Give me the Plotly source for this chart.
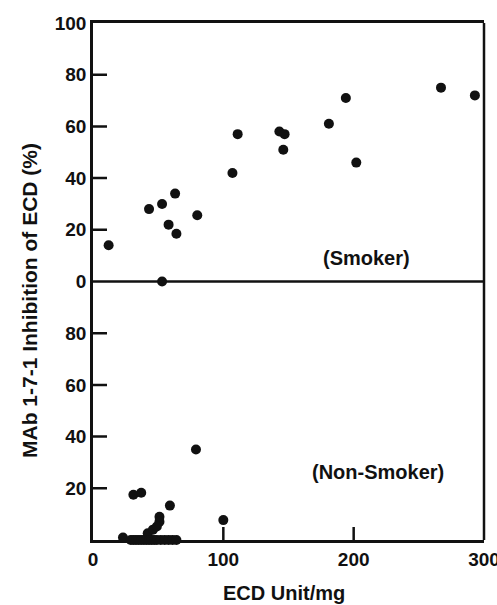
import plotly.graph_objects as go

# Smoker panel data
smoker_x = [12, 43, 53, 63, 58, 64, 80, 53, 107, 111, 143, 147, 146, 181, 194, 202, 267, 293]
smoker_y = [14, 28, 30, 34, 22, 18.5, 25.6, 0, 42, 57, 58, 57, 51, 61, 71, 46, 75, 72]

# Non-smoker panel data
nonsmoker_x = [79, 31, 37, 59, 51, 51, 100, 23, 42, 46, 49,
               29, 31, 33, 35, 37, 39, 41, 43, 45, 47, 49, 52, 55, 58, 61, 64]
nonsmoker_y = [35, 17.5, 18.3, 13.3, 9.0, 7.1, 7.7, 1.0, 2.6, 4.0, 5.2,
               0, 0, 0, 0, 0, 0, 0, 0, 0, 0, 0, 0, 0, 0, 0, 0]

x_ticks = [0, 100, 200, 300]
top_y_ticks = [0, 20, 40, 60, 80, 100]
bottom_y_ticks = [20, 40, 60, 80]

FONT = "Liberation Sans"
black = "#111111"

W, H = 497, 605
ML, MR, MT, MB = 93, 13, 23, 65
X_RANGE = [0, 300]
Y_RANGE = [0, 100]
plot_w = W - ML - MR
panel_h = (H - MT - MB) / 2
# tick lengths expressed in axis units (14 px along x, 13 px along y)
ytick_len = 14 * (X_RANGE[1] - X_RANGE[0]) / plot_w
xtick_len = 13 * (Y_RANGE[1] - Y_RANGE[0]) / panel_h


def hticks(vals):
    xs, ys = [], []
    for v in vals:
        xs += [X_RANGE[0], X_RANGE[0] + ytick_len, None]
        ys += [v, v, None]
    return xs, ys


def vticks(vals):
    xs, ys = [], []
    for v in vals:
        xs += [v, v, None]
        ys += [Y_RANGE[0], Y_RANGE[0] + xtick_len, None]
    return xs, ys


fig = go.Figure()
tick_line = dict(color=black, width=2.5)
bx, by = hticks(bottom_y_ticks[:])
fig.add_trace(go.Scatter(x=bx, y=by, mode="lines", line=tick_line, xaxis="x", yaxis="y",
                         hoverinfo="skip", showlegend=False, cliponaxis=False))
tx, ty = hticks(top_y_ticks[1:-1])
fig.add_trace(go.Scatter(x=tx, y=ty, mode="lines", line=tick_line, xaxis="x2", yaxis="y2",
                         hoverinfo="skip", showlegend=False, cliponaxis=False))
vx, vy = vticks(x_ticks[1:-1])
fig.add_trace(go.Scatter(x=vx, y=vy, mode="lines", line=tick_line, xaxis="x", yaxis="y",
                         hoverinfo="skip", showlegend=False, cliponaxis=False))

fig.add_trace(go.Scatter(x=smoker_x, y=smoker_y, mode="markers", xaxis="x2", yaxis="y2",
                         marker=dict(size=10, color=black), cliponaxis=False, showlegend=False))
fig.add_trace(go.Scatter(x=nonsmoker_x, y=nonsmoker_y, mode="markers", xaxis="x", yaxis="y",
                         marker=dict(size=10, color=black), cliponaxis=False, showlegend=False))

tickfont = dict(family=FONT, size=19, color=black, weight="bold")
line = dict(showline=True, linecolor=black, linewidth=2.5)

fig.update_layout(
    width=W, height=H,
    margin=dict(l=ML, r=MR, t=MT, b=MB, autoexpand=False),
    paper_bgcolor="white", plot_bgcolor="white",
    font=dict(family=FONT, color=black),
    xaxis=dict(range=X_RANGE, tickvals=x_ticks, ticks="", showgrid=False, zeroline=False,
               automargin=False, tickfont=tickfont, anchor="y", ticklabeloverflow="allow",
               **line),
    yaxis=dict(range=Y_RANGE, domain=[0, 0.5], tickvals=bottom_y_ticks, ticks="",
               showgrid=False, zeroline=False, automargin=False, tickfont=tickfont,
               anchor="x", **line),
    xaxis2=dict(range=X_RANGE, showticklabels=False, ticks="", showgrid=False,
                zeroline=False, automargin=False, anchor="y2", side="top", **line),
    yaxis2=dict(range=Y_RANGE, domain=[0.5, 1], tickvals=top_y_ticks, ticks="",
                showgrid=False, zeroline=False, automargin=False, tickfont=tickfont,
                anchor="x2", **line),
    shapes=[
        dict(type="line", xref="paper", yref="paper", x0=1, x1=1, y0=0, y1=1,
             line=dict(color=black, width=2.5)),
        dict(type="line", xref="paper", yref="paper", x0=0, x1=1, y0=0.5, y1=0.5,
             line=dict(color=black, width=2.5)),
    ],
    annotations=[
        dict(text="(Smoker)", x=210, y=8.9, xref="x2", yref="y2", showarrow=False,
             xanchor="center", yanchor="middle",
             font=dict(family=FONT, size=20, color=black, weight="bold")),
        dict(text="(Non-Smoker)", x=219, y=26.4, xref="x", yref="y", showarrow=False,
             xanchor="center", yanchor="middle",
             font=dict(family=FONT, size=20, color=black, weight="bold")),
        dict(text="ECD Unit/mg", x=0.488, y=-0.1025, xref="paper", yref="paper",
             showarrow=False, xanchor="center", yanchor="middle",
             font=dict(family=FONT, size=20, color=black, weight="bold")),
        dict(text="MAb 1-7-1 Inhibition of ECD (%)", x=-0.164, y=0.464, xref="paper",
             yref="paper", showarrow=False, textangle=-90, xanchor="center", yanchor="middle",
             font=dict(family=FONT, size=21, color=black, weight="bold")),
    ],
)

fig.write_html("out.html")
